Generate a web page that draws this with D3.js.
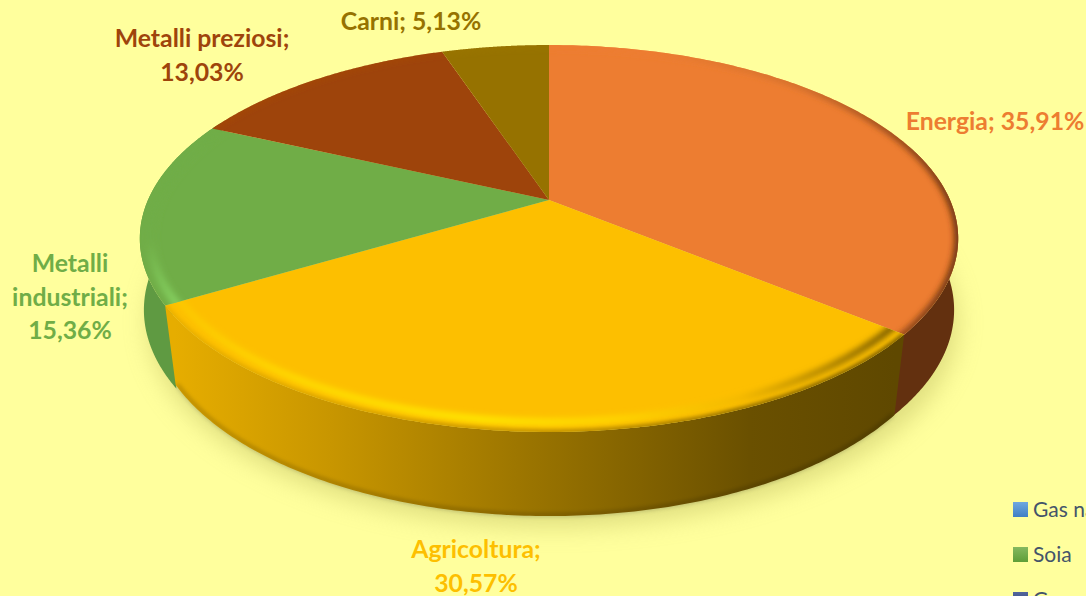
<!DOCTYPE html>
<html>
<head>
<meta charset="utf-8">
<script src="https://cdn.jsdelivr.net/npm/d3@7"></script>
<style>
  html, body { margin: 0; padding: 0; background: #ffff9d; overflow: hidden; }
</style>
</head>
<body>
<div id="chart"></div>
<script>
const categories = ['Energia', 'Agricoltura', 'Metalli industriali', 'Metalli preziosi', 'Carni'];
const shares = [35.91, 30.57, 15.36, 13.03, 5.13];
const legendNames = ['Gas naturale', 'Soia', 'Grano'];

const topColors = ['#ed7d31', '#fdbf00', '#70ad47', '#9e440b', '#967200'];
const legendColors = [['#6fa8e0', '#3f7fc4'], ['#84b95f', '#5f9e38'], ['#52659c', '#34477e']];

const width = 1086;
const height = 596;
const steps = 160;

// top and bottom disc of the pie, both seen in perspective
const topDisc = { cx: 549, cy: 200, rx: 401, ry: 185.8, p: 0.199 };
const bottomDisc = { cx: 549, cy: 275.5, rx: 390, ry: 192.7, p: 0.199 };
// the outer sides bulge a little past the bottom disc
const bulgeDisc = { cx: 549, cy: 270, rx: 397, ry: 192.7, p: 0.199 };

function project(disc, angle, k = 1) {
  const u = Math.sin(angle) * k;
  const v = -Math.cos(angle) * k;
  const w = 1 - disc.p * v;
  return [disc.cx + disc.rx * u / w, disc.cy + disc.ry * v / w];
}

const line = d3.line();

function arcPoints(disc, a0, a1, k = 1) {
  return d3.range(steps + 1).map(i => project(disc, a0 + (a1 - a0) * i / steps, k));
}

const svg = d3.select('#chart')
  .append('svg')
  .attr('width', width)
  .attr('height', height)
  .style('display', 'block')
  .style('font-family', 'Lato, sans-serif');

const defs = svg.append('defs');

function blur(id, amount) {
  defs.append('filter').attr('id', id).attr('x', '-20%').attr('y', '-20%').attr('width', '140%').attr('height', '140%')
    .append('feGaussianBlur').attr('stdDeviation', amount);
}
blur('soft', 12);
blur('bevel', 3);
blur('edge', 2);

function gradient(id, stops, vertical) {
  const g = defs.append('linearGradient').attr('id', id)
    .attr('gradientUnits', 'userSpaceOnUse')
    .attr('x1', 0).attr('y1', 0)
    .attr('x2', vertical ? 0 : width).attr('y2', vertical ? height : 0);
  const span = vertical ? height : width;
  stops.forEach(s => g.append('stop').attr('offset', s[0] / span).attr('stop-color', s[1]));
}

gradient('sideAgri', [[175, '#e6ad00'], [330, '#c89600'], [549, '#967100'], [750, '#6a5000'], [895, '#5f4800']]);
gradient('rimAgri', [[170, '#fdc800'], [300, '#ffdf00'], [480, '#ffee00'], [620, '#ffd800'], [740, '#f2b800'], [830, '#9c7600'], [895, '#5f4800']]);
gradient('edgeAgri', [[170, '#e6ad00'], [549, '#b08600'], [750, '#7a5c00'], [895, '#5f4800']]);
gradient('rimEnergy', [[650, '#ed7d31'], [800, '#d06f2c'], [900, '#8a4318'], [957, '#5c2c0e']]);
gradient('rimGreen', [[130, '#70ad47'], [240, '#70ad47'], [300, '#84cf5f']], true);

const pie = d3.pie().value(d => d).sort(null);
const slices = pie(shares);

const sideFill = ['#63300f', 'url(#sideAgri)', '#5f9a42', '#5f9a42', '#5f9a42'];
const rimStroke = ['url(#rimEnergy)', 'url(#rimAgri)', 'url(#rimGreen)', '#a84a0e', '#9c7700'];
const rimDepth = [1, 0.965, 0.975, 1, 1];
const rimWidth = [7, 6, 8, 3, 3];

// shadow on the background
const outlineAngle = d3.range(0, 2 * Math.PI, 0.02);
svg.append('path')
  .attr('d', line(outlineAngle.map(a => project(bottomDisc, a, 1.015)).map(p => [p[0] + 4, p[1] + 6])) + 'Z')
  .attr('fill', '#c9c86a')
  .attr('opacity', 0.6)
  .attr('filter', 'url(#soft)');

// energy and green sides run on under the agriculture side, which is drawn last
const energy = slices[0];
const agri = slices[1];
const green = slices[2];
const sideParts = [
  { i: 0, a0: Math.PI * 0.4, a1: energy.endAngle + 0.06, lower: bulgeDisc },
  { i: 2, a0: green.startAngle - 0.045, a1: Math.PI * 1.65, lower: bulgeDisc },
  { i: 1, a0: agri.startAngle, a1: agri.endAngle, lower: bottomDisc }
];

sideParts.forEach(part => {
  const upper = arcPoints(topDisc, part.a0, part.a1);
  const lower = arcPoints(part.lower, part.a0, part.a1).reverse();
  svg.append('path')
    .attr('d', line(upper.concat(lower)) + 'Z')
    .attr('fill', sideFill[part.i]);
});

// darker lip along the bottom of the agriculture side
svg.append('path')
  .attr('d', line(arcPoints(bottomDisc, agri.startAngle, agri.endAngle, 0.996)))
  .attr('fill', 'none')
  .attr('stroke', '#000')
  .attr('stroke-opacity', 0.25)
  .attr('stroke-width', 3)
  .attr('filter', 'url(#edge)');

// top face of each slice, with its soft rim clipped to the slice
slices.forEach((s, i) => {
  const outline = [[topDisc.cx, topDisc.cy]].concat(arcPoints(topDisc, s.startAngle, s.endAngle));
  const d = line(outline) + 'Z';
  defs.append('clipPath').attr('id', `slice${i}`).append('path').attr('d', d);

  const g = svg.append('g');
  g.append('path').attr('d', d).attr('fill', topColors[i]);
  const inner = g.append('g').attr('clip-path', `url(#slice${i})`);
  inner.append('path')
    .attr('d', line(arcPoints(topDisc, s.startAngle - 0.1, s.endAngle + 0.1, rimDepth[i])))
    .attr('fill', 'none')
    .attr('stroke', rimStroke[i])
    .attr('stroke-width', rimWidth[i])
    .attr('filter', 'url(#bevel)');
  if (i === 1) {
    // the yellow band melts into the side at the very edge
    inner.append('path')
      .attr('d', line(arcPoints(topDisc, s.startAngle, s.endAngle)))
      .attr('fill', 'none')
      .attr('stroke', 'url(#edgeAgri)')
      .attr('stroke-width', 4)
      .attr('filter', 'url(#edge)');
  }
});

// data labels
const fmt = v => `${v.toFixed(2).replace('.', ',')}%`;
const labelLines = [
  [`${categories[0]}; ${fmt(shares[0])}`],
  [`${categories[1]};`, fmt(shares[1])],
  ['Metalli', 'industriali;', fmt(shares[2])],
  [`${categories[3]};`, fmt(shares[3])],
  [`${categories[4]}; ${fmt(shares[4])}`]
];
const labelAnchor = [[995, 130], [476, 558], [70, 272], [202, 47], [411, 30]];

labelLines.forEach((rows, i) => {
  rows.forEach((row, j) => {
    svg.append('text')
      .attr('x', labelAnchor[i][0])
      .attr('y', labelAnchor[i][1] + j * 33.5)
      .attr('text-anchor', 'middle')
      .attr('font-size', 24.8)
      .attr('font-weight', 700)
      .attr('fill', topColors[i])
      .text(row);
  });
});

// legend runs off the right and bottom of the window
legendNames.forEach((name, i) => {
  const y = 502 + i * 45;
  const id = `legend${i}`;
  const g = defs.append('linearGradient').attr('id', id).attr('x1', 0).attr('x2', 0).attr('y1', 0).attr('y2', 1);
  g.append('stop').attr('offset', 0).attr('stop-color', legendColors[i][0]);
  g.append('stop').attr('offset', 1).attr('stop-color', legendColors[i][1]);
  svg.append('rect').attr('x', 1013).attr('y', y).attr('width', 15).attr('height', 15).attr('fill', `url(#${id})`);
  svg.append('text').attr('x', 1033).attr('y', y + 15).attr('font-size', 21).attr('fill', '#44546a').text(name);
});
</script>
</body>
</html>
